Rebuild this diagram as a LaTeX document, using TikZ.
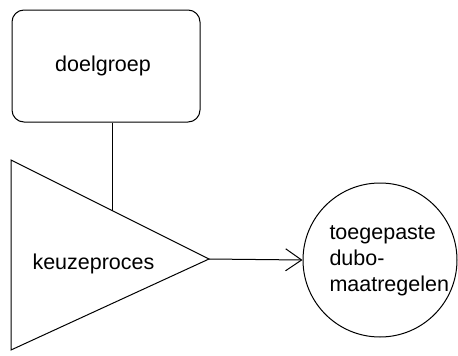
\documentclass[tikz,border=0pt]{standalone}
\usepackage{fontspec}
\setmainfont{Liberation Sans}
\usetikzlibrary{arrows.meta}
\begin{document}
\begin{tikzpicture}[x=1pt,y=-1pt,line width=1pt,
  lbl/.style={font=\fontsize{21.5}{26}\selectfont, inner sep=0pt},
  box/.style={draw, rounded corners=12pt, minimum width=188pt, minimum height=112pt, inner sep=0pt},
  endcircle/.style={draw, circle, minimum size=154pt, inner sep=0pt},
  flow/.style={-{Straight Barb[length=16pt,width=22pt,line width=1pt]}}]
\useasboundingbox (0,0) rectangle (458,356);
\node[box] (doel) at (106,66) {};
\node[lbl] (doeltxt) at (103,66) {doelgroep};
\coordinate (tl) at (11,160);
\coordinate (tb) at (11,350);
\coordinate (apex) at (209,259);
\draw (tl) -- (apex) -- (tb) -- cycle;
\node[lbl, anchor=base west] (keuze) at (32,269) {keuzeproces};
\coordinate (hit) at (112,210.5);
\draw (doel.south -| hit) -- (hit);
\node[endcircle] (maat) at (380,260) {};
\node[lbl, align=left, anchor=north west] (maattxt) at (329,225) {toegepaste\\dubo-\\maatregelen};
\draw[flow] (apex) -- (maat.west);
\end{tikzpicture}
\end{document}
